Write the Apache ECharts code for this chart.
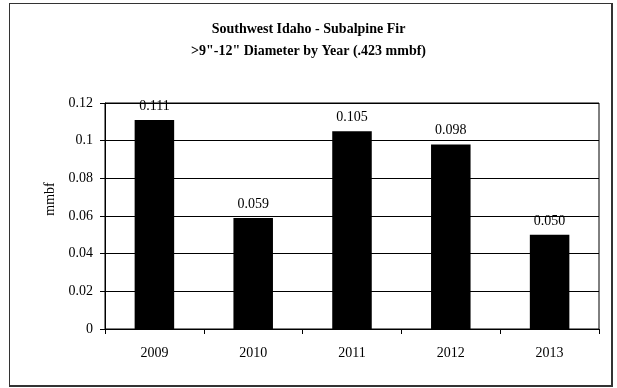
<!DOCTYPE html>
<html>
<head>
<meta charset="utf-8">
<script src="https://cdn.jsdelivr.net/npm/echarts@6/dist/echarts.min.js"></script>
<style>
  html, body { margin: 0; padding: 0; background: #fff; }
  #frame { position: absolute; left: 9px; top: 3px; width: 601px; height: 381px;
           border: 1px solid #333; border-right-width: 2px; border-bottom-width: 2px; }
  #main { width: 617px; height: 388px; }
</style>
</head>
<body>
<div id="frame"></div>
<div id="main"></div>
<script>
// data
const years = ['2009', '2010', '2011', '2012', '2013'];
const volume = [0.111, 0.059, 0.105, 0.098, 0.050];
const volumeLabels = ['0.111', '0.059', '0.105', '0.098', '0.050'];

const font = '"Liberation Serif", "Times New Roman", serif';
const myChart = echarts.init(document.getElementById('main'));

const option = {
  animation: false,
  title: {
    text: 'Southwest Idaho - Subalpine Fir\n>9"-12" Diameter by Year (.423 mmbf)',
    left: 'center',
    top: 13,
    textStyle: { fontFamily: font, fontSize: 14, fontWeight: 'bold', color: '#000', lineHeight: 22 }
  },
  grid: { left: 105, right: 18, top: 103, bottom: 59, show: true, borderColor: '#000', borderWidth: 1 },
  xAxis: {
    type: 'category',
    data: years,
    axisLine: { lineStyle: { color: '#000', width: 1 } },
    axisTick: { show: true, length: 5, lineStyle: { color: '#000' } },
    axisLabel: { fontFamily: font, fontSize: 14, color: '#000', margin: 17 }
  },
  yAxis: {
    type: 'value',
    min: 0,
    max: 0.12,
    interval: 0.02,
    name: 'mmbf',
    nameLocation: 'middle',
    nameGap: 48,
    nameTextStyle: { fontFamily: font, fontSize: 14, color: '#000', padding: [0, 0, 0, 34] },
    axisLine: { show: true, lineStyle: { color: '#000', width: 1 } },
    axisTick: { show: true, length: 5, lineStyle: { color: '#000' } },
    axisLabel: {
      fontFamily: font, fontSize: 14, color: '#000', margin: 12,
      formatter: v => String(+v.toFixed(2))
    },
    splitLine: { show: true, lineStyle: { color: '#000', width: 1 } }
  },
  series: [
    {
      type: 'bar',
      data: volume,
      barWidth: '40%',
      itemStyle: { color: '#000' },
      label: {
        show: true,
        position: 'top',
        distance: 7,
        fontFamily: font,
        fontSize: 14,
        color: '#000',
        formatter: p => volumeLabels[p.dataIndex]
      }
    }
  ]
};

option && myChart.setOption(option);
</script>
</body>
</html>
